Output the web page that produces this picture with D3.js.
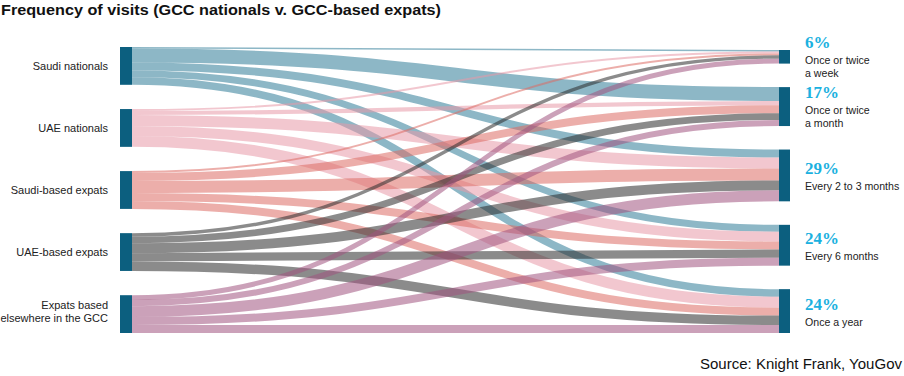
<!DOCTYPE html>
<html>
<head>
<meta charset="utf-8">
<script src="https://cdn.jsdelivr.net/npm/d3@7"></script>
<style>
  html, body { margin: 0; padding: 0; background: #fff; }
  svg { display: block; }
</style>
</head>
<body>
<svg id="chart" width="904" height="376"></svg>
<script>
// ---------- DATA ----------
const titleText = "Frequency of visits (GCC nationals v. GCC-based expats)";
const sourceText = "Source: Knight Frank, YouGov";

const sourceGroups = ["Saudi nationals", "UAE nationals", "Saudi-based expats", "UAE-based expats", "Expats based elsewhere in the GCC"];
const sourceLabelLines = [["Saudi nationals"], ["UAE nationals"], ["Saudi-based expats"], ["UAE-based expats"], ["Expats based", "elsewhere in the GCC"]];

const frequencies = ["Once or twice a week", "Once or twice a month", "Every 2 to 3 months", "Every 6 months", "Once a year"];
const frequencyLabelLines = [["Once or twice", "a week"], ["Once or twice", "a month"], ["Every 2 to 3 months"], ["Every 6 months"], ["Once a year"]];
const frequencyShares = ["6%", "17%", "29%", "24%", "24%"];

// share (%) of each group by frequency, in the order of `frequencies`
const saudiNationals   = [4, 37, 21, 18, 20];
const uaeNationals     = [5, 11, 29, 26, 29];
const saudiBasedExpats = [5, 21, 32, 21, 21];
const uaeBasedExpats   = [9, 18, 26, 22, 25];
const expatsElsewhere  = [13, 16, 29, 21, 21];
const flowRows = [saudiNationals, uaeNationals, saudiBasedExpats, uaeBasedExpats, expatsElsewhere];

// ---------- STYLE / LAYOUT ----------
const linkColors = ["#2f7c97", "#e899a8", "#dc6b65", "#2b2b2b", "#a05480"];
const nodeColor = "#0c5f7f";
const pctColor = "#1bb1e0";
const leftX0 = 120, leftX1 = 132, rightX0 = 779, rightX1 = 790;
const leftTop = 47, rightTop = 50, colBottom = 333;

const svg = d3.select("#chart");

// build graph
const leftNodes = sourceGroups.map((name, i) => ({name, i, value: d3.sum(flowRows[i]), sourceLinks: []}));
const rightNodes = frequencies.map((name, j) => ({name, j, value: d3.sum(flowRows, r => r[j]), targetLinks: []}));
const links = [];
flowRows.forEach((row, i) => row.forEach((v, j) => {
  const l = {source: leftNodes[i], target: rightNodes[j], value: v, si: i, tj: j};
  links.push(l);
  leftNodes[i].sourceLinks.push(l);
  rightNodes[j].targetLinks.push(l);
}));

const total = d3.sum(leftNodes, d => d.value);
const heightScale = d3.scaleLinear().domain([0, total]).range([0, 189]);

function placeColumn(nodes, top) {
  const used = d3.sum(nodes, d => heightScale(d.value));
  const pad = (colBottom - top - used) / (nodes.length - 1);
  let y = top;
  nodes.forEach(n => { n.y0 = y; n.y1 = y + heightScale(n.value); y = n.y1 + pad; });
}
placeColumn(leftNodes, leftTop);
placeColumn(rightNodes, rightTop);

links.forEach(l => l.width = heightScale(l.value));
leftNodes.forEach(n => {
  let y = n.y0;
  n.sourceLinks.sort((a, b) => a.tj - b.tj).forEach(l => { l.y0 = y + l.width / 2; y += l.width; });
});
rightNodes.forEach(n => {
  let y = n.y0;
  n.targetLinks.sort((a, b) => a.si - b.si).forEach(l => { l.y1 = y + l.width / 2; y += l.width; });
});

const linkPath = d3.linkHorizontal()
  .source(d => [leftX1, d.y0])
  .target(d => [rightX0, d.y1]);

svg.append("g").attr("fill", "none")
  .selectAll("path").data(links).join("path")
  .attr("d", linkPath)
  .attr("stroke", d => linkColors[d.si])
  .attr("stroke-opacity", 0.55)
  .attr("stroke-width", d => Math.max(1, d.width));

// nodes
svg.append("g").selectAll("rect").data(leftNodes).join("rect")
  .attr("x", leftX0).attr("width", leftX1 - leftX0)
  .attr("y", d => d.y0).attr("height", d => d.y1 - d.y0)
  .attr("fill", nodeColor);
svg.append("g").selectAll("rect").data(rightNodes).join("rect")
  .attr("x", rightX0).attr("width", rightX1 - rightX0)
  .attr("y", d => d.y0).attr("height", d => d.y1 - d.y0)
  .attr("fill", nodeColor);

// left labels
const lg = svg.append("g").attr("font-family", "'Liberation Sans', Arial, sans-serif")
  .attr("font-size", 11).attr("fill", "#222").attr("text-anchor", "end");
leftNodes.forEach((n, i) => {
  const lines = sourceLabelLines[i];
  const c = (n.y0 + n.y1) / 2;
  const first = c + 4 - (lines.length - 1) * 9.5;
  lines.forEach((t, k) => lg.append("text").attr("x", 108).attr("y", first + k * 13.5).text(t));
});

// right labels
const rg = svg.append("g");
rightNodes.forEach((n, j) => {
  const lines = frequencyLabelLines[j];
  const c = (n.y0 + n.y1) / 2;
  const pctY = c - 1.5 - (lines.length - 1) * 7.5;
  rg.append("text").attr("x", 805).attr("y", pctY)
    .attr("font-family", "'Liberation Serif', 'Times New Roman', serif")
    .attr("font-weight", "bold").attr("font-size", 17).attr("fill", pctColor)
    .text(frequencyShares[j]);
  lines.forEach((t, k) => rg.append("text").attr("x", 805).attr("y", pctY + 16 + k * 13.5)
    .attr("font-family", "'Liberation Sans', Arial, sans-serif")
    .attr("font-size", 10.6).attr("fill", "#222").text(t));
});

// title & source
svg.append("text").attr("x", 1).attr("y", 14.5)
  .attr("font-family", "'Liberation Sans', Arial, sans-serif")
  .attr("font-weight", "bold").attr("font-size", 15).attr("fill", "#111")
  .attr("textLength", 440).attr("lengthAdjust", "spacingAndGlyphs")
  .text(titleText);
svg.append("text").attr("x", 902).attr("y", 369).attr("text-anchor", "end")
  .attr("font-family", "'Liberation Sans', Arial, sans-serif")
  .attr("font-size", 14).attr("fill", "#111")
  .attr("textLength", 202).attr("lengthAdjust", "spacingAndGlyphs")
  .text(sourceText);
</script>
</body>
</html>
